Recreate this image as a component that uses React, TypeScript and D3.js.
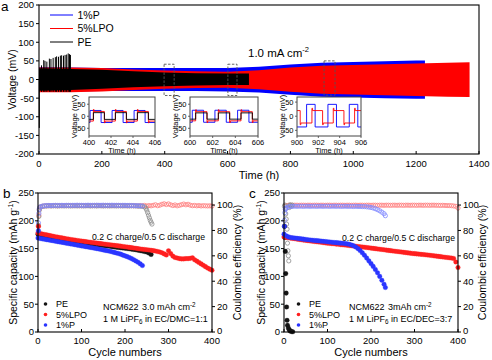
import React from 'react';
import * as d3 from 'd3';

const FONT = '"Liberation Sans", Arial, Helvetica, sans-serif';

const A_BLUE = '#0000ff';
const A_RED = '#ff0000';
const A_BLACK = '#000000';
const B_RED = '#ff1f1f';
const B_BLUE = '#2a35ff';
const B_BLACK = '#141414';
const CE_RED = '#ff7d7d';
const CE_BLUE = '#7f88ff';
const CE_BLACK = '#8c8c8c';

// ================= Panel a data =================
const aXTicks = [0, 200, 400, 600, 800, 1000, 1200, 1400];
const aYTicks = [-200, -150, -100, -50, 0, 50, 100, 150, 200];
const aLegend = ['1%P', '5%LPO', 'PE'];

const blueT = [0, 100, 200, 300, 400, 500, 600, 700, 800, 900, 1000, 1100, 1200, 1228];
const blueHi = [33, 32, 31, 31, 31, 31, 31, 34, 40, 45, 47, 49, 51, 51];
const blueLo = [-33, -32, -31, -31, -31, -31, -32, -35, -41, -46, -48, -50, -52, -52];

const redT = [0, 100, 200, 300, 400, 500, 600, 700, 800, 900, 1000, 1100, 1200, 1300, 1370];
const redHi = [32, 32, 31, 27, 24, 22, 21, 25, 32, 37, 39, 41, 43, 45, 46];
const redLo = [-34, -34, -32, -28, -25, -23, -22, -26, -33, -38, -40, -42, -44, -46, -47];

const peT = [0, 100, 200, 300, 400, 500, 600, 668];
const peHi = [30, 28, 26, 22, 19, 17, 16, 16];
const peLo = [-30, -28, -25, -21, -18, -16, -15, -15];

const peSpikeT = [8, 15, 19, 25, 33, 38, 45, 52, 56, 62, 68, 72, 78, 83, 88, 93, 97, 100];
const peSpikeV = [38, 52, 50, 48, 56, 55, 58, 60, 62, 61, 64, 65, 64, 66, 67, 70, 68, 66];
const peDropT = 1;
const peDropV = -130;

const zoomBoxT0 = [398, 601, 907];
const zoomBoxT1 = [430, 630, 942];
const zoomBoxV0 = [-43, -43, -42];
const zoomBoxV1 = [41, 41, 50];

// insets: step waveforms (time, voltage)
const in1BlueT = [400, 400.1, 401.1, 402.1, 403.1, 404.1, 405.1, 406];
const in1BlueV = [-26, 24, -26, 24, -26, 24, -26, -26];
const in1RedT = [400, 400.4, 400.46, 401.4, 401.46, 402.4, 402.46, 403.4, 403.46, 404.4, 404.46, 405.4, 405.46, 406];
const in1RedV = [-20, 28, 20, -27, -20, 28, 20, -27, -20, 28, 20, -27, -20, -20];
const in1PeT = [400, 400.4, 401.4, 402.4, 403.4, 404.4, 405.4, 406];
const in1PeV = [-13, 15, -13, 15, -13, 15, -13, -13];

const in2BlueT = [600, 600.2, 601.2, 602.2, 603.2, 604.2, 605.2, 606];
const in2BlueV = [-25, 25, -25, 25, -25, 25, -25, -25];
const in2RedT = [600, 600.5, 600.56, 601.5, 601.56, 602.5, 602.56, 603.5, 603.56, 604.5, 604.56, 605.5, 605.56, 606];
const in2RedV = [-19, 27, 19, -26, -19, 27, 19, -26, -19, 27, 19, -26, -19, -19];
const in2PeT = [600, 600.5, 601.5, 602.5, 603.5, 604.5, 605.5, 606];
const in2PeV = [-12, 14, -12, 14, -12, 14, -12, -12];

const in3BlueT = [900, 900.9, 901.7, 902.9, 903.7, 904.9, 905.7, 906];
const in3BlueV = [-38, 42, -38, 42, -38, 42, -38, -38];
const in3RedT = [900, 900.3, 900.36, 901.4, 901.46, 902.4, 902.46, 903.4, 903.46, 904.4, 904.46, 905.4, 905.46, 906];
const in3RedV = [20, -30, -24, 28, 20, -30, -24, 28, 20, -30, -24, 28, 20, 20];

// ================= Panel b data (every 5 cycles from 0) =================
const capTicks = [0, 50, 100, 150, 200, 250];
const ceTicks = [0, 20, 40, 60, 80, 100];
const cycTicks = [0, 100, 200, 300, 400];
const cycLegend = ['PE', '5%LPO', '1%P'];

const bRedCap = [
  178, 177, 176.2, 175.4, 174.6, 173.8, 173, 172.2, 171.4, 170.6,
  169.9, 169.2, 168.5, 167.8, 167.1, 166.5, 165.9, 165.3, 164.7, 164.1,
  163.5, 163, 162.5, 162, 161.5, 161, 160.4, 159.9, 159.4, 158.9,
  158.4, 157.9, 157.4, 156.9, 156.4, 155.9, 155.4, 154.9, 154.4, 153.9,
  153.3, 152.8, 152.2, 151.7, 151.1, 150.5, 149.9, 149.3, 148.8, 148.4,
  148, 147.5, 147, 146.3, 145.6, 144.8, 143.8, 142.5, 140.5, 138.5,
  146, 141, 136.5, 134, 133, 132, 131.5, 131.5, 132, 132,
  132.5, 133.5, 130, 127.5, 125, 122.5, 120, 117.5, 115, 113,
  111,
];
const bBlackCap = [
  176, 175, 174, 173, 172.2, 171.4, 170.6, 169.8, 169, 168.2,
  167.4, 166.6, 165.9, 165.2, 164.5, 163.8, 163.1, 162.5, 161.9, 161.3,
  160.7, 160.1, 159.6, 159.1, 158.6, 158.1, 157.6, 157.1, 156.6, 156.1,
  155.6, 155.1, 154.6, 154.1, 153.6, 153.1, 152.6, 152.1, 151.6, 151.1,
  150.6, 150.1, 149.6, 149.1, 148.5, 147.9, 147.2, 146.4, 145.6, 144.8,
  143.8, 142, 139.5,
];
const bBlueCap = [
  169, 168.2, 167.5, 166.8, 166.1, 165.4, 164.7, 164, 163.3, 162.6,
  161.9, 161.2, 160.5, 159.8, 159.1, 158.4, 157.7, 157, 156.3, 155.6,
  154.9, 154.2, 153.5, 152.8, 152.1, 151.4, 150.7, 150, 149.2, 148.4,
  147.6, 146.8, 146, 145.1, 144.2, 143.2, 142.2, 141.1, 140, 138.3,
  137, 135.5, 133.8, 132, 130, 127.8, 125.4, 122.6, 119.5,
];
const bFirstCycle = [1];
const bRedFirstCap = [190];
const bBlueFirstCap = [182];

// CE (every 5 cycles from 5) + early cycles 1..3
const bBlueCE = [
  98.6, 99.2, 99.5, 99.6, 99.7, 99.6, 99.7, 99.8, 99.7, 99.7,
  99.8, 99.7, 99.8, 99.8, 99.7, 99.8, 99.8, 99.9, 99.8, 99.8,
  99.7, 99.8, 99.9, 99.8, 99.8, 99.8, 99.9, 99.8, 99.8, 99.9,
  99.8, 99.8, 99.8, 99.9, 99.8, 99.8, 99.8, 99.7, 99.8, 99.8,
  99.7, 99.7, 99.6, 99.6, 99.5, 99.5, 99.4, 99.3,
];
const bRedCE = [
  98.4, 99.0, 99.3, 99.4, 99.5, 99.4, 99.5, 99.5, 99.4, 99.5,
  99.5, 99.6, 99.5, 99.5, 99.6, 99.5, 99.5, 99.6, 99.5, 99.5,
  99.6, 99.5, 99.6, 99.5, 99.5, 99.6, 99.5, 99.6, 99.5, 99.5,
  99.6, 99.5, 99.6, 99.5, 99.5, 99.6, 99.5, 99.5, 99.6, 99.5,
  99.4, 99.5, 99.6, 99.4, 99.5, 99.3, 99.6, 99.4, 99.7, 99.3,
  99.6, 99.4, 99.8, 100.2, 99.5, 99.9, 100.6, 101.0, 100.4, 100.9,
  100.2, 99.6, 100.1, 99.4, 99.8, 100.3, 100.8, 100.2, 100.6, 99.9,
  99.5, 99.7, 99.4, 99.6, 99.3, 99.5, 99.4, 99.3, 99.4, 99.2,
];
const bBlackCE = [
  98.3, 99.0, 99.2, 99.3, 99.4, 99.3, 99.4, 99.4, 99.3, 99.4,
  99.4, 99.3, 99.4, 99.4, 99.3, 99.4, 99.4, 99.3, 99.4, 99.4,
  99.3, 99.4, 99.4, 99.3, 99.4, 99.4, 99.3, 99.4, 99.4, 99.3,
  99.4, 99.4, 99.3, 99.4, 99.4, 99.3, 99.4, 99.4, 99.3, 99.4,
  99.4, 99.3, 99.4, 99.4, 99.3, 99.2, 99.1, 99.0, 98.6,
];
const bBlackDipCyc = [248, 250, 252, 254, 256, 258, 260, 262];
const bBlackDipCE = [97.5, 96, 94, 92, 90, 88, 86.5, 85];
const earlyCyc = [1, 2, 3];
const bBlueEarlyCE = [86, 93.5, 97];
const bRedEarlyCE = [83, 92, 96.5];
const bBlackEarlyCE = [84, 91, 96];

// ================= Panel c data =================
const cBlueCap = [
  176, 173, 171, 170, 169.5, 169, 168.5, 168, 167.5, 167,
  166.5, 166, 165.5, 165.1, 164.7, 164.3, 163.9, 163.5, 163.1, 162.7,
  162.3, 161.9, 161.5, 161.1, 160.7, 160.3, 159.9, 159.5, 159.1, 158.5,
  157.7, 156.6, 155, 152.8, 150, 146.5, 142.5, 138, 133, 128,
  123, 118, 112.5, 106.5, 100, 93, 86,
];
const cBlueTailCyc = [233];
const cBlueTailCap = [80];
const cRedCap = [
  171, 170.2, 169.5, 168.9, 168.3, 167.7, 167.1, 166.5, 165.9, 165.3,
  164.8, 164.3, 163.8, 163.3, 162.8, 162.3, 161.8, 161.3, 160.8, 160.3,
  159.8, 159.4, 159, 158.6, 158.1, 157.7, 157.2, 156.8, 156.4, 155.9,
  155.5, 155.1, 154.6, 154.2, 153.8, 153.4, 152.9, 152.4, 151.9, 151.4,
  150.9, 150.4, 149.9, 149.4, 148.9, 148.4, 147.8, 147.3, 146.8, 146.3,
  145.8, 145.3, 144.8, 144.3, 143.8, 143.3, 142.8, 142.3, 141.8, 141.3,
  140.9, 140.5, 140.1, 139.7, 139.3, 138.9, 138.5, 138, 137.5, 137,
  136.5, 136, 135.5, 135, 134.5, 134, 133.5, 133, 132.3, 126,
  116,
];
const cBlueFirstCap = [190];
const cPeCyc = [1, 2, 3, 4, 5, 6, 7, 8, 10, 12, 14, 17, 20];
const cPeCap = [190, 170, 145, 105, 70, 45, 21, 12, 7, 4, 2, 1, 0.5];

const cRedCE = [
  99.6, 99.8, 99.9, 99.8, 99.9, 99.9, 99.8, 99.9, 99.9, 99.8,
  99.9, 99.9, 99.8, 99.9, 99.9, 99.8, 99.9, 99.9, 99.8, 99.9,
  99.9, 99.8, 99.9, 99.9, 99.8, 99.9, 99.9, 99.8, 99.9, 99.9,
  99.8, 99.9, 99.9, 99.8, 99.9, 99.9, 99.8, 99.9, 99.9, 99.8,
  99.9, 99.9, 99.8, 99.9, 99.9, 99.8, 99.9, 99.9, 99.8, 99.9,
  99.9, 99.8, 99.9, 99.9, 99.8, 99.9, 99.9, 99.8, 99.9, 99.9,
  99.8, 99.9, 99.9, 99.8, 99.9, 99.9, 99.8, 99.9, 99.9, 99.8,
  99.8, 99.7, 99.8, 99.7, 99.6, 99.6, 99.5, 99.3, 99.0, 97.6,
];
const cBlueCE = [
  97.8, 98.6, 98.9, 99.0, 99.1, 99.0, 99.1, 99.1, 99.0, 99.1,
  99.1, 99.0, 99.1, 99.1, 99.0, 99.1, 99.1, 99.0, 99.1, 99.1,
  99.0, 99.1, 99.1, 99.0, 99.1, 99.0, 99.0, 99.1, 99.0, 99.0,
  99.0, 98.9, 99.0, 98.9, 98.9, 98.8, 98.8, 98.6, 98.4, 98.1,
  97.7, 97.1, 96.4, 95.5, 94.4, 93.2,
];
const cBlueTailCE = [91.6];
const cBlueEarlyCyc = [1, 2, 3, 4];
const cBlueEarlyCE = [88, 94, 96.5, 97.5];
const cPeCECyc = [1, 2, 3, 4, 5, 6, 7, 8, 9, 10, 11, 12, 13, 15, 17, 19];
const cPeCE = [99, 100, 97, 93, 89, 85, 81, 70, 64, 60, 56, 98, 100, 100, 99, 100];

// ================= helpers =================
type P = [number, number];
const zip = (a: number[], b: number[]): P[] =>
  a.slice(0, Math.min(a.length, b.length)).map((v, i) => [v, b[i]] as P);
const seq = (start: number, step: number, vals: number[]): P[] =>
  vals.map((v, i) => [start + i * step, v] as P);

function Inset(props: {
  l: number; r: number; t: number; b: number;
  xd: [number, number]; yd: [number, number]; xt: number[];
  lines: { pts: P[]; color: string }[]; id: string;
}) {
  const { l, r, t, b, xd, yd, xt, lines, id } = props;
  const x = d3.scaleLinear().domain(xd).range([l, r]);
  const y = d3.scaleLinear().domain(yd).range([b, t]);
  const ln = d3.line<P>().x((d) => x(d[0])).y((d) => y(d[1])).curve(d3.curveStepAfter);
  return (
    <g>
      <rect x={l} y={t} width={r - l} height={b - t} fill="#fff" />
      <clipPath id={id}>
        <rect x={l} y={t} width={r - l} height={b - t} />
      </clipPath>
      <g clipPath={`url(#${id})`}>
        {lines.map((s, i) => (
          <path key={i} d={ln(s.pts) || ''} fill="none" stroke={s.color} strokeWidth={0.9} />
        ))}
      </g>
      <rect x={l} y={t} width={r - l} height={b - t} fill="none" stroke="#444" strokeWidth={1} />
      {xt.map((v) => (
        <g key={v}>
          <line x1={x(v)} x2={x(v)} y1={b} y2={b + 2} stroke="#444" strokeWidth={0.8} />
          <text x={x(v)} y={b + 8.8} textAnchor="middle" fontSize={7.5}>{v}</text>
        </g>
      ))}
      {[-50, 0, 50].map((v) => (
        <g key={v}>
          <line x1={l - 2} x2={l} y1={y(v)} y2={y(v)} stroke="#444" strokeWidth={0.8} />
          <text x={l - 3.5} y={y(v) + 2.7} textAnchor="end" fontSize={7.5}>{v}</text>
        </g>
      ))}
      <text x={(l + r) / 2} y={b + 16.5} textAnchor="middle" fontSize={7.5}>Time (h)</text>
      <text transform={`translate(${l - 12.5},${(t + b) / 2}) rotate(-90)`} textAnchor="middle" fontSize={7.5}>
        Voltage (mV)
      </text>
    </g>
  );
}

type Series = { pts: P[]; color: string };

function CyclePanel(props: {
  l: number; r: number; t: number; b: number; letter: string;
  cap: Series[]; ce: Series[]; legendX: number; legendTextX: number;
  ncmX: number; ncmX2: number; ncm2: string; electrolyte: string; noteX: number; noteY: number;
  leftTitleX: number; rightTitleX: number;
}) {
  const { l, r, t, b, cap, ce } = props;
  const x = d3.scaleLinear().domain([0, 400]).range([l, r]);
  const yL = d3.scaleLinear().domain([0, 250]).range([b, t]);
  const yR = d3.scaleLinear().domain([0, 109.5]).range([b, t]);
  const legendColors = [B_BLACK, B_RED, B_BLUE];
  const legendY = [304, 314.5, 325];
  return (
    <g>
      <text x={l - 35} y={t + 5} fontSize={13.5}>{props.letter}</text>
      {ce.map((s, i) => (
        <g key={'ce' + i}>
          {s.pts.map((p, j) => (
            <circle key={j} cx={x(p[0])} cy={yR(p[1])} r={2.1} fill="none" stroke={s.color} strokeWidth={0.8} />
          ))}
        </g>
      ))}
      {cap.map((s, i) => (
        <g key={'cap' + i}>
          {s.pts.map((p, j) => (
            <circle key={j} cx={x(p[0])} cy={yL(p[1])} r={2.3} fill={s.color} stroke={s.color} strokeWidth={0.3} />
          ))}
        </g>
      ))}
      <rect x={l} y={t} width={r - l} height={b - t} fill="none" stroke="#000" strokeWidth={1.1} />
      {capTicks.map((v) => (
        <g key={'l' + v}>
          <line x1={l - 3} x2={l} y1={yL(v)} y2={yL(v)} stroke="#000" />
          <text x={l - 4} y={yL(v) + 3.3} textAnchor="end" fontSize={9.5}>{v}</text>
        </g>
      ))}
      {ceTicks.map((v) => (
        <g key={'r' + v}>
          <line x1={r} x2={r + 3} y1={yR(v)} y2={yR(v)} stroke="#000" />
          <text x={r + 5} y={yR(v) + (v === 0 ? 1.8 : 3.3)} fontSize={9.5}>{v}</text>
        </g>
      ))}
      {cycTicks.map((v) => (
        <g key={'x' + v}>
          <line x1={x(v)} x2={x(v)} y1={b} y2={b - 3} stroke="#000" />
          <text x={x(v)} y={b + 12} textAnchor="middle" fontSize={9.5}>{v}</text>
        </g>
      ))}
      <text x={(l + r) / 2} y={356} textAnchor="middle" fontSize={11}>Cycle numbers</text>
      <text transform={`translate(${props.leftTitleX},${(t + b) / 2}) rotate(-90)`} textAnchor="middle" fontSize={10.5}>
        Specific capacity (mAh g<tspan dy={-4} fontSize={7}>-1</tspan><tspan dy={4}>)</tspan>
      </text>
      <text transform={`translate(${props.rightTitleX},${(t + b) / 2}) rotate(-90)`} textAnchor="middle" fontSize={10.5}>
        Coulombic efficiency (%)
      </text>
      <text x={props.noteX} y={props.noteY} fontSize={8.7}>0.2 C charge/0.5 C discharge</text>
      {cycLegend.map((name, i) => (
        <g key={name}>
          <circle cx={props.legendX} cy={legendY[i]} r={1.8} fill={legendColors[i]} />
          <text x={props.legendTextX} y={legendY[i] + 3.3} fontSize={9}>{name}</text>
        </g>
      ))}
      <text x={props.ncmX} y={310} fontSize={9}>NCM622</text>
      <text x={props.ncmX2} y={310} fontSize={9}>
        {props.ncm2}<tspan dy={-3.5} fontSize={6.3}>-2</tspan>
      </text>
      <text x={props.ncmX} y={321.5} fontSize={9}>
        1 M LiPF<tspan dy={2} fontSize={6.3}>6</tspan><tspan dy={-2}>{' in ' + props.electrolyte}</tspan>
      </text>
    </g>
  );
}

export default function App() {
  const xA = d3.scaleLinear().domain([0, 1400]).range([39, 479]);
  const yA = d3.scaleLinear().domain([-200, 200]).range([154, 5]);
  const band = (t: number[], hi: number[], lo: number[]) =>
    d3
      .area<number>()
      .x((_, i) => xA(t[i]))
      .y0((_, i) => yA(lo[i]))
      .y1((_, i) => yA(hi[i]))(t) || '';

  const legendColorsA = [A_BLUE, A_RED, A_BLACK];
  const legendYA = [15, 28.5, 42];

  return (
    <svg
      width={492}
      height={360}
      viewBox="0 0 492 360"
      style={{ position: 'absolute', left: 0, top: 0, background: '#fff' }}
      fontFamily={FONT}
    >
      <rect x={0} y={0} width={492} height={360} fill="#fff" />
      {/* ===== Panel a ===== */}
      <text x={1} y={10.5} fontSize={13.5}>a</text>
      <path d={band(blueT, blueHi, blueLo)} fill={A_BLUE} />
      <path d={band(redT, redHi, redLo)} fill={A_RED} />
      <path d={band(peT, peHi, peLo)} fill={A_BLACK} />
      {peSpikeT.map((tt, i) => (
        <line key={i} x1={xA(tt)} x2={xA(tt)} y1={yA(-33)} y2={yA(peSpikeV[i])} stroke={A_BLACK} strokeWidth={1} />
      ))}
      <line x1={xA(peDropT)} x2={xA(peDropT)} y1={yA(0)} y2={yA(peDropV)} stroke={A_BLACK} strokeWidth={1} />
      {zoomBoxT0.map((t0, i) => (
        <rect
          key={i}
          x={xA(t0)}
          y={yA(zoomBoxV1[i])}
          width={xA(zoomBoxT1[i]) - xA(t0)}
          height={yA(zoomBoxV0[i]) - yA(zoomBoxV1[i])}
          fill="none"
          stroke="#555"
          strokeWidth={0.9}
          strokeDasharray="2.5,1.5"
        />
      ))}
      <Inset
        id="in1" l={89} r={155} t={97} b={136} xd={[400, 406]} yd={[-82, 80]} xt={[400, 402, 404, 406]}
        lines={[
          { pts: zip(in1BlueT, in1BlueV), color: A_BLUE },
          { pts: zip(in1RedT, in1RedV), color: A_RED },
          { pts: zip(in1PeT, in1PeV), color: A_BLACK },
        ]}
      />
      <Inset
        id="in2" l={190} r={258} t={97} b={136} xd={[600, 606]} yd={[-82, 80]} xt={[600, 602, 604, 606]}
        lines={[
          { pts: zip(in2BlueT, in2BlueV), color: A_BLUE },
          { pts: zip(in2RedT, in2RedV), color: A_RED },
          { pts: zip(in2PeT, in2PeV), color: A_BLACK },
        ]}
      />
      <Inset
        id="in3" l={297} r={361} t={97} b={136} xd={[900, 906]} yd={[-70, 68]} xt={[900, 902, 904, 906]}
        lines={[
          { pts: zip(in3BlueT, in3BlueV), color: A_BLUE },
          { pts: zip(in3RedT, in3RedV), color: A_RED },
        ]}
      />
      <rect x={39} y={5} width={440} height={149} fill="none" stroke="#000" strokeWidth={1.1} />
      {aXTicks.map((v) => (
        <g key={'ax' + v}>
          <line x1={xA(v)} x2={xA(v)} y1={154} y2={151} stroke="#000" />
          <text x={xA(v)} y={166.5} textAnchor="middle" fontSize={9.5}>{v}</text>
        </g>
      ))}
      {aYTicks.map((v) => (
        <g key={'ay' + v}>
          <line x1={36} x2={39} y1={yA(v)} y2={yA(v)} stroke="#000" />
          <text x={34} y={yA(v) + 3.4} textAnchor="end" fontSize={9.5}>{v}</text>
        </g>
      ))}
      <text x={259} y={179} textAnchor="middle" fontSize={11}>Time (h)</text>
      <text transform={`translate(15.5,${(5 + 154) / 2}) rotate(-90)`} textAnchor="middle" fontSize={10.5}>
        Voltage (mV)
      </text>
      {aLegend.map((name, i) => (
        <g key={name}>
          <line x1={50} x2={73} y1={legendYA[i]} y2={legendYA[i]} stroke={legendColorsA[i]} strokeWidth={1} />
          <text x={77.5} y={legendYA[i] + 3.7} fontSize={10.5}>{name}</text>
        </g>
      ))}
      <text x={248} y={56.5} fontSize={11.5}>
        1.0 mA cm<tspan dy={-4.5} fontSize={7.5}>-2</tspan>
      </text>

      {/* ===== Panel b ===== */}
      <CyclePanel
        l={38} r={212} t={193} b={332} letter="b"
        cap={[
          { pts: seq(0, 5, bBlackCap), color: B_BLACK },
          { pts: seq(0, 5, bRedCap).concat(zip(bFirstCycle, bRedFirstCap)), color: B_RED },
          { pts: seq(0, 5, bBlueCap).concat(zip(bFirstCycle, bBlueFirstCap)), color: B_BLUE },
        ]}
        ce={[
          { pts: seq(5, 5, bRedCE).concat(zip(earlyCyc, bRedEarlyCE)), color: CE_RED },
          { pts: seq(5, 5, bBlackCE).concat(zip(earlyCyc, bBlackEarlyCE), zip(bBlackDipCyc, bBlackDipCE)), color: CE_BLACK },
          { pts: seq(5, 5, bBlueCE).concat(zip(earlyCyc, bBlueEarlyCE)), color: CE_BLUE },
        ]}
        legendX={45.5} legendTextX={56}
        ncmX={103} ncmX2={142} ncm2="3.0 mAh cm" electrolyte="EC/DMC=1:1"
        noteX={92} noteY={239.5} leftTitleX={16.5} rightTitleX={240.5}
      />

      {/* ===== Panel c ===== */}
      <CyclePanel
        l={284} r={458} t={193} b={332} letter="c"
        cap={[
          { pts: zip(cPeCyc, cPeCap), color: B_BLACK },
          { pts: seq(0, 5, cRedCap), color: B_RED },
          { pts: seq(0, 5, cBlueCap).concat(zip(cBlueTailCyc, cBlueTailCap), zip(bFirstCycle, cBlueFirstCap)), color: B_BLUE },
        ]}
        ce={[
          { pts: seq(5, 5, cRedCE), color: CE_RED },
          { pts: zip(cPeCECyc, cPeCE), color: CE_BLACK },
          { pts: seq(5, 5, cBlueCE).concat(zip(cBlueTailCyc, cBlueTailCE), zip(cBlueEarlyCyc, cBlueEarlyCE)), color: CE_BLUE },
        ]}
        legendX={298.5} legendTextX={309}
        ncmX={349} ncmX2={388} ncm2="3mAh cm" electrolyte="EC/DEC=3:7"
        noteX={342} noteY={241} leftTitleX={264.5} rightTitleX={485.5}
      />
    </svg>
  );
}
